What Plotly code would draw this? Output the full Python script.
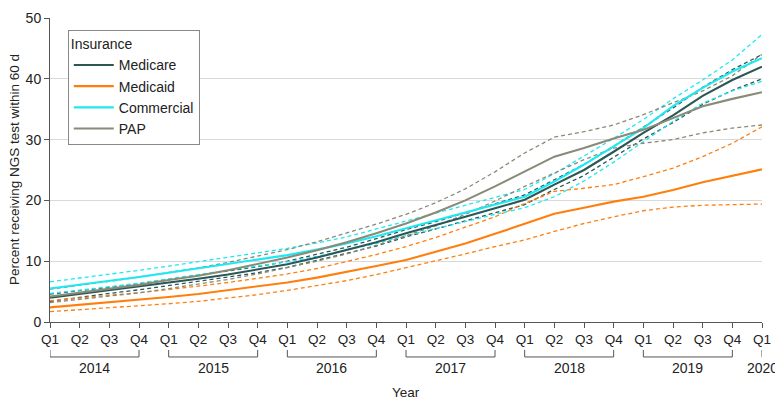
"""NGS testing within 60 d by insurance type, 2014 Q1 - 2020 Q1."""

import plotly.graph_objects as go

quarters = ["Q1", "Q2", "Q3", "Q4"] * 6 + ["Q1"]
years = ["2014", "2015", "2016", "2017", "2018", "2019", "2020"]

medicare = [4.0, 4.6, 5.2, 5.8, 6.5, 7.1, 7.8, 8.6, 9.5, 10.6, 11.8, 13.1,
            14.6, 15.9, 17.3, 18.7, 20.1, 22.6, 25.0, 28.0, 31.1, 34.0, 37.2, 39.8, 42.0]
medicare_hi = [4.6, 5.1, 5.7, 6.3, 7.0, 7.6, 8.3, 9.1, 10.0, 11.1, 12.3, 13.7,
               15.2, 16.5, 18.0, 19.4, 20.9, 23.4, 25.9, 28.9, 32.1, 35.2, 38.6, 41.5, 44.0]
medicare_lo = [3.4, 4.1, 4.7, 5.3, 6.0, 6.6, 7.3, 8.1, 9.0, 10.1, 11.3, 12.5,
               14.0, 15.3, 16.6, 18.0, 19.3, 21.8, 24.1, 27.1, 30.1, 32.8, 35.8, 38.1, 40.0]

medicaid = [2.4, 2.8, 3.2, 3.6, 4.1, 4.6, 5.2, 5.8, 6.5, 7.3, 8.2, 9.2,
            10.2, 11.5, 12.9, 14.5, 16.2, 17.8, 18.8, 19.8, 20.6, 21.7, 23.0, 24.1, 25.1]
medicaid_hi = [3.5, 4.0, 4.4, 4.8, 5.3, 5.9, 6.5, 7.2, 7.9, 8.8, 9.9, 11.1,
               12.4, 13.9, 15.6, 17.3, 19.5, 21.5, 22.0, 22.6, 23.9, 25.3, 27.2, 29.4, 32.1]
medicaid_lo = [1.7, 2.0, 2.3, 2.6, 3.0, 3.4, 3.9, 4.5, 5.2, 6.0, 6.8, 7.8,
               8.9, 10.0, 11.2, 12.4, 13.5, 14.9, 16.2, 17.3, 18.3, 18.9, 19.2, 19.3, 19.4]

commercial = [5.5, 6.1, 6.8, 7.4, 8.1, 8.8, 9.5, 10.2, 11.0, 11.9, 12.9, 14.1,
              15.4, 16.7, 18.0, 19.3, 20.6, 23.1, 25.9, 28.9, 31.9, 35.5, 38.5, 41.2, 43.4]
commercial_hi = [6.6, 7.2, 7.9, 8.5, 9.2, 9.9, 10.6, 11.3, 12.1, 13.0, 14.0, 15.3,
                 16.6, 17.9, 19.2, 20.5, 21.8, 24.4, 27.3, 30.2, 33.3, 36.7, 39.8, 43.1, 47.3]
commercial_lo = [4.7, 5.2, 5.8, 6.4, 7.1, 7.7, 8.4, 9.1, 9.9, 10.8, 11.8, 12.9,
                 14.2, 15.3, 16.5, 17.7, 18.8, 20.6, 23.2, 26.3, 29.7, 33.0, 36.0, 38.0, 39.6]

pap = [4.2, 4.8, 5.4, 6.1, 6.9, 7.6, 8.5, 9.5, 10.6, 11.8, 13.1, 14.6,
       16.2, 18.0, 20.0, 22.3, 24.8, 27.2, 28.6, 30.2, 31.6, 33.5, 35.5, 36.7, 37.8]
pap_hi = [5.4, 6.0, 6.7, 7.4, 8.1, 8.9, 9.8, 10.8, 11.9, 13.2, 14.6, 16.1,
          17.7, 19.6, 21.9, 24.7, 27.8, 30.4, 31.3, 32.4, 34.1, 36.0, 38.0, 40.5, 44.0]
pap_lo = [3.2, 3.7, 4.2, 4.8, 5.5, 6.2, 7.0, 7.9, 8.9, 10.0, 11.2, 12.6,
          14.2, 15.8, 17.7, 19.9, 22.3, 24.5, 26.7, 28.6, 29.4, 30.0, 31.1, 31.9, 32.4]

series = [
    ("Medicare", "#2b5757", medicare, medicare_lo, medicare_hi),
    ("Medicaid", "#ff7f0e", medicaid, medicaid_lo, medicaid_hi),
    ("Commercial", "#1de9f2", commercial, commercial_lo, commercial_hi),
    ("PAP", "#8a8a78", pap, pap_lo, pap_hi),
]

FONT = "Liberation Sans"
TXT = "#222222"
x = list(range(len(quarters)))

fig = go.Figure()

# dashed CI bounds first, solid estimates on top
for name, color, mid, lo, hi in series:
    for bound in (lo, hi):
        fig.add_trace(go.Scatter(
            x=x, y=bound, mode="lines",
            line=dict(color=color, width=1.3, dash="4px,3px"),
            showlegend=False, hoverinfo="skip",
        ))
for name, color, mid, lo, hi in series:
    fig.add_trace(go.Scatter(
        x=x, y=mid, mode="lines", name=name,
        line=dict(color=color, width=2.1),
    ))

# year brackets under the quarter ticks
shapes = []
annotations = []
for i, yr in enumerate(years):
    x0 = 4 * i
    if i < len(years) - 1:
        x1 = x0 + 3
        shapes.append(dict(
            type="path", xref="x", yref="paper",
            path=f"M {x0},-0.092 L {x0},-0.115 L {x1},-0.115 L {x1},-0.092",
            line=dict(color="#555555", width=1),
        ))
    else:
        x1 = x0
        shapes.append(dict(
            type="line", xref="x", yref="paper",
            x0=x0, x1=x0, y0=-0.092, y1=-0.115,
            line=dict(color="#555555", width=1),
        ))
    annotations.append(dict(
        x=(x0 + x1) / 2, y=-0.152, xref="x", yref="paper",
        text=yr, showarrow=False, yanchor="middle",
        font=dict(family=FONT, size=14, color=TXT),
    ))

annotations.append(dict(
    x=0.5, y=-0.232, xref="paper", yref="paper", text="Year",
    showarrow=False, yanchor="middle",
    font=dict(family=FONT, size=13.5, color=TXT),
))
annotations.append(dict(
    x=0, y=0.5, xref="paper", yref="paper", xshift=-36,
    text="Percent receiving NGS test within 60 d", textangle=-90,
    showarrow=False, xanchor="center", yanchor="middle",
    font=dict(family=FONT, size=13.5, color=TXT),
))

# page body adds an 8px offset, so margins are set against that
fig.update_layout(
    width=783, height=411,
    margin=dict(l=42, r=29, t=10, b=97),
    plot_bgcolor="white", paper_bgcolor="white",
    font=dict(family=FONT, size=13.5, color=TXT),
    shapes=shapes, annotations=annotations,
    legend=dict(
        title=dict(text="Insurance", font=dict(family=FONT, size=14)),
        x=0.025, y=0.96, xanchor="left", yanchor="top",
        bgcolor="white", bordercolor="#888888", borderwidth=1,
        font=dict(family=FONT, size=14), tracegroupgap=0,
        itemwidth=40,
    ),
    xaxis=dict(
        range=[0, len(quarters) - 1],
        tickmode="array", tickvals=x, ticktext=quarters,
        showgrid=False, zeroline=False,
        showline=True, linecolor="#555555", linewidth=1,
        ticks="outside", ticklen=5, tickcolor="#555555",
        tickfont=dict(family=FONT, size=13.5),
        automargin=False,
    ),
    yaxis=dict(
        range=[0, 50], dtick=10,
        showgrid=True, gridcolor="#d9d9d9", gridwidth=1,
        zeroline=False,
        showline=True, linecolor="#555555", linewidth=1,
        ticks="outside", ticklen=5, tickcolor="#555555",
        tickfont=dict(family=FONT, size=14),
        automargin=False,
    ),
)

fig.write_html("out.html")
